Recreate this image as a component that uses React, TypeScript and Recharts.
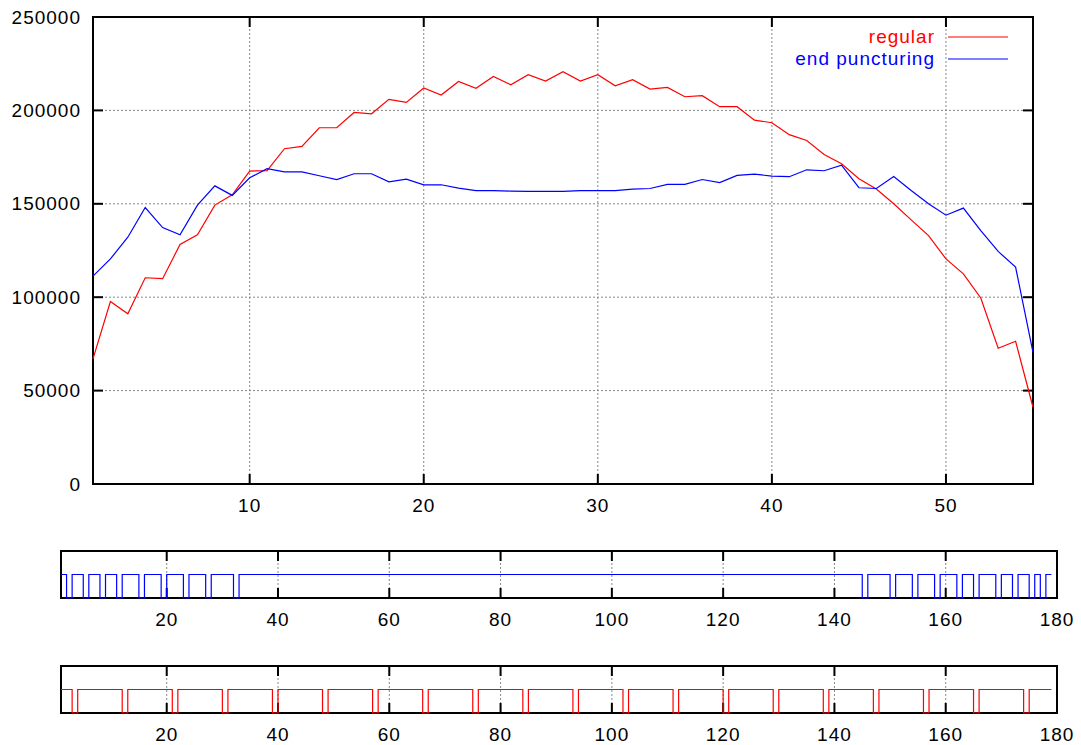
import { LineChart, Line, XAxis, YAxis, CartesianGrid, Legend, ReferenceArea, ReferenceLine } from 'recharts';

const FONT = '"Liberation Sans", Arial, Helvetica, sans-serif';

// throughput per position, 1..55
const positions = [
	1, 2, 3, 4, 5, 6, 7, 8, 9, 10, 11, 12, 13, 14, 15, 16, 17, 18, 19, 20, 21, 22, 23, 24, 25, 26, 27, 28,
	29, 30, 31, 32, 33, 34, 35, 36, 37, 38, 39, 40, 41, 42, 43, 44, 45, 46, 47, 48, 49, 50, 51, 52, 53, 54, 55,
];

const regular = [
	67000, 97700, 91100, 110400, 109900, 128200, 133400, 149300, 154800, 167500, 167800, 179500, 180700,
	190700, 190800, 198900, 198200, 205900, 204300, 212000, 208200, 215500, 211800, 218200, 213700, 219100,
	215700, 220700, 215700, 219100, 213200, 216400, 211400, 212300, 207300, 207900, 202000, 202000, 194800,
	193400, 187000, 183900, 176400, 171400, 163400, 157900, 150000, 141400, 133000, 120500, 112500, 99600,
	72700, 76400, 41100,
];

const endPuncturing = [
	111300, 120500, 132100, 148000, 137300, 133400, 149300, 159600, 154500, 163900, 168800, 167100, 167100,
	165000, 163000, 166100, 166100, 161800, 163200, 160100, 160200, 158400, 157100, 157100, 156800, 156600,
	156600, 156600, 157000, 157100, 157100, 157900, 158200, 160400, 160400, 163000, 161400, 165200, 165900,
	164800, 164500, 168200, 167700, 170700, 158600, 158200, 164600, 157100, 150000, 143900, 147700, 135700,
	124500, 116100, 70500,
];

const seriesNames = ['regular', 'end puncturing'];
const mainXTicks = [10, 20, 30, 40, 50];
const mainYTicks = [0, 50000, 100000, 150000, 200000, 250000];

// bit patterns, 1..179: which positions are punctured (0)
const bitCount = 179;
const endPuncturedBits = [2, 5, 8, 11, 15, 19, 23, 27, 32, 145, 150, 154, 158, 162, 165, 169, 172, 175, 177];
const regularPuncturedBits = [
	3, 12, 21, 30, 39, 48, 57, 66, 75, 84, 93, 102, 111, 120, 129, 138, 147, 156, 165, 174,
];
const stripTicks = [20, 40, 60, 80, 100, 120, 140, 160, 180];

const mainRows = positions.map((x, i) => ({ x, regular: regular[i], end: endPuncturing[i] }));

const bitRows = (punctured: number[]) =>
	Array.from({ length: bitCount }, (_, i) => ({ x: i + 1, bit: punctured.includes(i + 1) ? 0 : 1 }));

// plot boxes in px, used to turn a 10px tick mark into data units
const MAIN_W = 940;
const MAIN_H = 467;
const STRIP_H = 47;
const TICK_PX = 10;
const mainXTickLen = (TICK_PX * 54) / MAIN_W;
const mainYTickLen = (TICK_PX * 250000) / MAIN_H;
const stripYTickLen = (TICK_PX * 2) / STRIP_H;

const textStyle = { fontFamily: FONT, fontSize: 19, letterSpacing: 1, fill: '#000' };

const XLabel = ({ x, y, payload }: any) => (
	<text x={x} y={y + 21} textAnchor="middle" dominantBaseline="central" {...textStyle}>
		{payload.value}
	</text>
);

const YLabel = ({ x, y, payload }: any) => (
	<text x={x - 12} y={y} textAnchor="end" dominantBaseline="central" {...textStyle}>
		{payload.value}
	</text>
);

const tickMark = { stroke: '#000', strokeWidth: 2, ifOverflow: 'visible' as const };

const KeyBox = ({ payload }: any) => {
	const items = [...(payload || [])].sort(
		(a: any, b: any) => seriesNames.indexOf(a.value) - seriesNames.indexOf(b.value),
	);
	return (
		<div style={{ fontFamily: FONT, fontSize: 19, letterSpacing: 1 }}>
			{items.map((item: any) => (
				<div
					key={item.value}
					style={{ display: 'flex', justifyContent: 'flex-end', alignItems: 'center', height: 22 }}
				>
					<span style={{ color: item.color, lineHeight: '22px' }}>{item.value}</span>
					<svg width={60} height={4} style={{ marginLeft: 13 }}>
						<line x1={0} x2={60} y1={2} y2={2} stroke={item.color} strokeWidth={1.2} />
					</svg>
				</div>
			))}
		</div>
	);
};

function BitStrip({ data, color, top }: { data: { x: number; bit: number }[]; color: string; top: number }) {
	return (
		<div style={{ position: 'absolute', left: 0, top }}>
			<LineChart width={1081} height={90} data={data} margin={{ top: 11, right: 24, bottom: 0, left: 61 }}>
				<CartesianGrid
					xAxisId="x"
					yAxisId="y"
					horizontal={false}
					stroke="#888"
					strokeDasharray="2 2"
				/>
				<XAxis
					xAxisId="x"
					dataKey="x"
					type="number"
					domain={[1, 180]}
					ticks={stripTicks}
					interval={0}
					height={32}
					axisLine={false}
					tickLine={false}
					tickSize={0}
					tickMargin={0}
					tick={XLabel}
				/>
				<YAxis yAxisId="y" domain={[0, 2]} hide />
				{stripTicks.map((t) => (
					<ReferenceLine
						key={`b${t}`}
						xAxisId="x"
						yAxisId="y"
						segment={[{ x: t, y: 0 }, { x: t, y: stripYTickLen }]}
						{...tickMark}
					/>
				))}
				{stripTicks.map((t) => (
					<ReferenceLine
						key={`t${t}`}
						xAxisId="x"
						yAxisId="y"
						segment={[{ x: t, y: 2 }, { x: t, y: 2 - stripYTickLen }]}
						{...tickMark}
					/>
				))}
				<ReferenceArea
					xAxisId="x"
					yAxisId="y"
					x1={1}
					x2={180}
					y1={0}
					y2={2}
					fill="none"
					stroke="#000"
					strokeWidth={2}
					ifOverflow="visible"
				/>
				<Line
					xAxisId="x"
					yAxisId="y"
					type="stepAfter"
					dataKey="bit"
					stroke={color}
					strokeWidth={1.2}
					dot={false}
					isAnimationActive={false}
				/>
			</LineChart>
		</div>
	);
}

export default function App() {
	return (
		<div style={{ position: 'absolute', left: 0, top: 0, width: 1081, height: 745, background: '#fff' }}>
			<div style={{ position: 'absolute', left: 0, top: 0 }}>
				<LineChart width={1081} height={530} data={mainRows} margin={{ top: 17, right: 48, bottom: 0, left: 0 }}>
					<CartesianGrid xAxisId="x" yAxisId="y" stroke="#888" strokeDasharray="2 2" />
					<XAxis
						xAxisId="x"
						dataKey="x"
						type="number"
						domain={[1, 55]}
						ticks={mainXTicks}
						interval={0}
						height={46}
						axisLine={false}
						tickLine={false}
						tickSize={0}
						tickMargin={0}
						tick={XLabel}
					/>
					<YAxis
						yAxisId="y"
						domain={[0, 250000]}
						ticks={mainYTicks}
						interval={0}
						width={93}
						axisLine={false}
						tickLine={false}
						tickSize={0}
						tickMargin={0}
						tick={YLabel}
					/>
					{mainXTicks.map((t) => (
						<ReferenceLine
							key={`xb${t}`}
							xAxisId="x"
							yAxisId="y"
							segment={[{ x: t, y: 0 }, { x: t, y: mainYTickLen }]}
							{...tickMark}
						/>
					))}
					{mainXTicks.map((t) => (
						<ReferenceLine
							key={`xt${t}`}
							xAxisId="x"
							yAxisId="y"
							segment={[{ x: t, y: 250000 }, { x: t, y: 250000 - mainYTickLen }]}
							{...tickMark}
						/>
					))}
					{mainYTicks.map((t) => (
						<ReferenceLine
							key={`yl${t}`}
							xAxisId="x"
							yAxisId="y"
							segment={[{ x: 1, y: t }, { x: 1 + mainXTickLen, y: t }]}
							{...tickMark}
						/>
					))}
					{mainYTicks.map((t) => (
						<ReferenceLine
							key={`yr${t}`}
							xAxisId="x"
							yAxisId="y"
							segment={[{ x: 55, y: t }, { x: 55 - mainXTickLen, y: t }]}
							{...tickMark}
						/>
					))}
					<ReferenceArea
						xAxisId="x"
						yAxisId="y"
						x1={1}
						x2={55}
						y1={0}
						y2={250000}
						fill="none"
						stroke="#000"
						strokeWidth={2}
						ifOverflow="visible"
					/>
					<Legend
						layout="vertical"
						align="center"
						verticalAlign="middle"
						content={KeyBox}
						wrapperStyle={{ top: 26, left: 698, width: 310 }}
					/>
					<Line
						xAxisId="x"
						yAxisId="y"
						type="linear"
						dataKey="regular"
						name="regular"
						stroke="#ff0000"
						strokeWidth={1.2}
						dot={false}
						isAnimationActive={false}
					/>
					<Line
						xAxisId="x"
						yAxisId="y"
						type="linear"
						dataKey="end"
						name="end puncturing"
						stroke="#0000ff"
						strokeWidth={1.2}
						dot={false}
						isAnimationActive={false}
					/>
				</LineChart>
			</div>
			<BitStrip data={bitRows(endPuncturedBits)} color="#0000ff" top={540} />
			<BitStrip data={bitRows(regularPuncturedBits)} color="#ff0000" top={655} />
		</div>
	);
}
